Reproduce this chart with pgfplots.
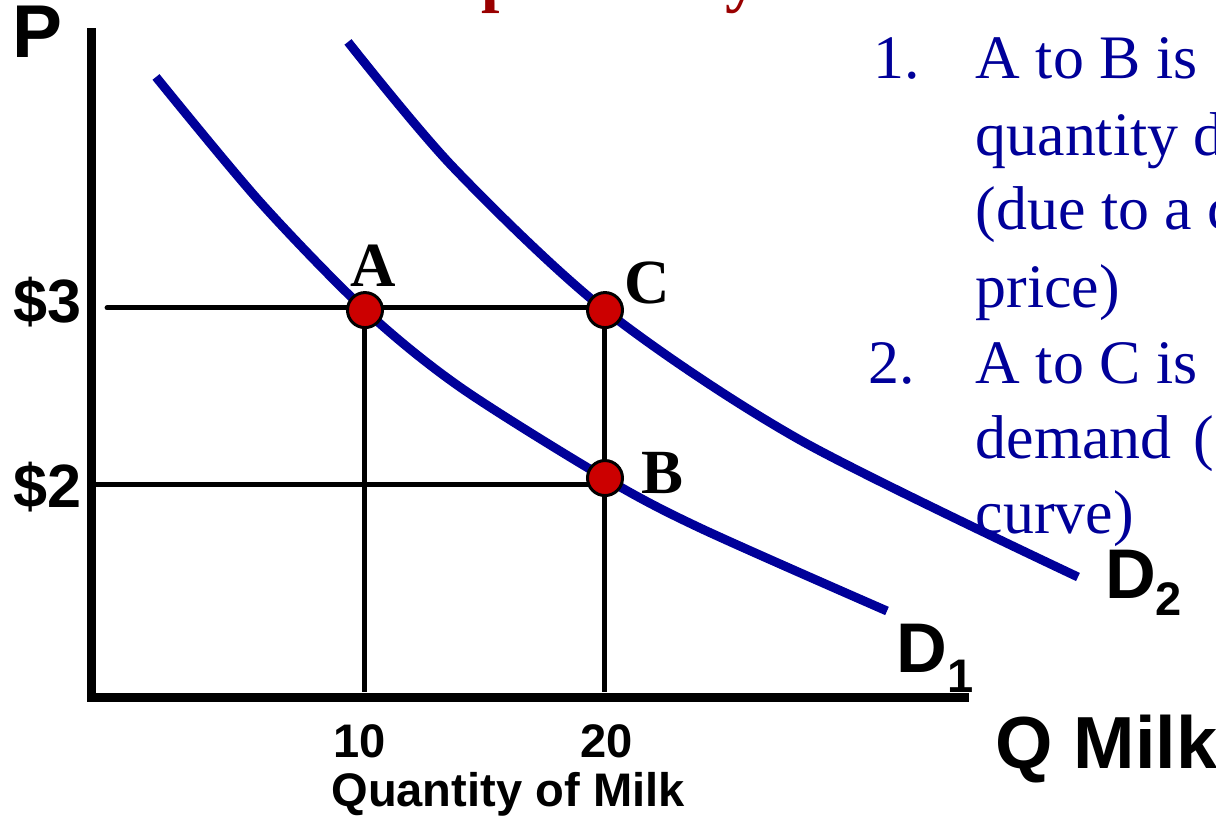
\documentclass[border=0pt]{standalone}
\usepackage{pgfplots}
\pgfplotsset{compat=1.18}
\usepackage{fontspec}
\setmainfont{Liberation Serif}
\newfontfamily\arial{Liberation Sans}
\definecolor{dblue}{RGB}{0,0,153}
\definecolor{dotred}{RGB}{204,0,0}
\definecolor{dred}{RGB}{153,0,0}
\newcommand\fs[1]{\fontsize{#1}{#1}\selectfont}
\begin{document}
\begin{tikzpicture}[x=0.1mm,y=0.1mm]
\begin{axis}[
  at={(9.2mm,12.4mm)}, anchor=south west,
  scale only axis, width=87.3mm, height=66.5mm,
  xmin=-1.42, xmax=35.1, ymin=0.802, ymax=4.559,
  axis lines=left,
  axis line style={-, line width=0.9mm, line cap=rect},
  xtick=\empty, ytick=\empty,
  clip=false,
]
% guide lines
\addplot[black, line width=0.5mm, line cap=round] coordinates {(-0.79,3) (20.04,3)};
\addplot[black, line width=0.5mm] coordinates {(-1.42,2) (20.04,2)};
\addplot[black, line width=0.5mm] coordinates {(9.96,3) (9.96,0.83)};
\addplot[black, line width=0.5mm] coordinates {(20.04,3) (20.04,0.83)};
% D1
\addplot[dblue, line width=0.9mm, smooth] coordinates {
(1.257,4.305) (5.608,3.599) (10,2.988) (13.974,2.553) (20.04,2.039)
(24.014,1.757) (31.837,1.288)};
% D2
\addplot[dblue, line width=0.9mm, smooth] coordinates {
(9.289,4.503) (13.681,3.796) (20.04,2.988) (28.197,2.254) (39.826,1.480)};
% points
\addplot[only marks, mark=*, mark size=4.98pt,
  mark options={fill=dotred, draw=black, line width=0.3mm}]
  coordinates {(10,2.988) (20.04,2.988) (20.04,2.039)};
\end{axis}
% axis texts
\node[anchor=base west, inner sep=0] at (12,821-57) {\arial\bfseries\fs{21.3pt}P};
\node[anchor=base east, inner sep=0] at (82,821-322) {\arial\bfseries\fs{17.4pt}\$3};
\node[anchor=base east, inner sep=0] at (82,821-507) {\arial\bfseries\fs{17.4pt}\$2};
\node[anchor=base, inner sep=0] at (360,821-757) {\arial\bfseries\fs{13.4pt}10};
\node[anchor=base, inner sep=0] at (607,821-757) {\arial\bfseries\fs{13.4pt}20};
\node[anchor=base, inner sep=0] at (508,821-806) {\arial\bfseries\fs{13.4pt}Quantity of Milk};
\node[anchor=base west, inner sep=0] at (995,821-768) {\arial\bfseries\fs{21pt}Q Milk};
\node[anchor=base west, inner sep=0] at (896,821-672) {\arial\bfseries\fs{20pt}D};
\node[anchor=base west, inner sep=0] at (947,821-692) {\arial\bfseries\fs{13.4pt}1};
\node[anchor=base west, inner sep=0] at (1105,821-598) {\arial\bfseries\fs{20pt}D};
\node[anchor=base west, inner sep=0] at (1155,821-615) {\arial\bfseries\fs{13.4pt}2};
% point labels
\node[anchor=base, inner sep=0] at (373,821-287) {\bfseries\fs{17.9pt}A};
\node[anchor=base west, inner sep=0] at (624,821-303) {\bfseries\fs{17.9pt}C};
\node[anchor=base west, inner sep=0] at (641,821-493) {\bfseries\fs{17.9pt}B};
% right-hand text
\begin{scope}[every node/.style={anchor=base west, inner sep=0, text=dblue, font=\fs{17.6pt}}]
\node at (873,821-78) {1.};
\node at (975,821-78) {A to B is};
\node at (975,821-155) {quantity demanded};
\node at (975,821-230) {(due to a change in};
\node at (975,821-307) {price)};
\node at (868,821-383) {2.};
\node at (975,821-383) {A to C is};
\node at (975,821-458) {demand\hspace{0.35em}(};
\node at (975,821-533) {curve)};
\end{scope}
% title descenders (top, cut off)
\node[anchor=base west, inner sep=0, text=dred] at (481,822) {\bfseries\fs{18.8pt}p};
\node[anchor=base west, inner sep=0, text=dred] at (725,822) {\bfseries\fs{18.8pt}y};
\pgfresetboundingbox
\useasboundingbox (0,0) rectangle (1216,821);
\end{tikzpicture}
\end{document}
